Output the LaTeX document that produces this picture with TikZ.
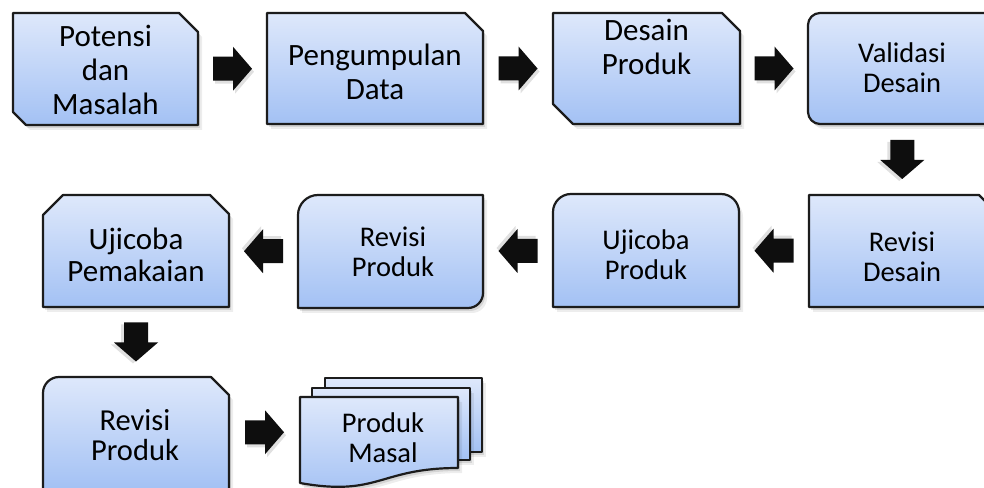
\documentclass[tikz,border=0pt]{standalone}
\usepackage{fontspec}
\setmainfont{Carlito}
\usetikzlibrary{calc}
\definecolor{boxtop}{RGB}{222,232,251}
\definecolor{boxbot}{RGB}{163,193,244}
\definecolor{edge}{RGB}{28,28,28}
\definecolor{arrowfill}{RGB}{14,14,14}
\tikzset{
  boxline/.style={draw=edge, line width=2.2pt, line join=round, top color=boxtop, bottom color=boxbot,
    preaction={fill=black, opacity=0.10, transform canvas={shift={(2pt,-3pt)}}},
    preaction={fill=black, opacity=0.07, transform canvas={shift={(4pt,-5pt)}}}},
  boxarea/.style={draw=none, fill=none, inner sep=0pt, outer sep=0pt, rectangle},
  txtA/.style={font=\fontsize{31}{34}\selectfont, align=center, text=black, inner sep=0pt, anchor=base},
  txtB/.style={font=\fontsize{28.5}{30}\selectfont, align=center, text=black, inner sep=0pt, anchor=base},
  blockarrow/.pic={
    \fill[black, opacity=0.12] (-17.5,-15) -- (2.5,-15) -- (2.5,-25) -- (21.5,-3) -- (2.5,19) -- (2.5,9) -- (-17.5,9) -- cycle;
    \fill[arrowfill] (-19.5,-12) -- (0.5,-12) -- (0.5,-22) -- (19.5,0) -- (0.5,22) -- (0.5,12) -- (-19.5,12) -- cycle;
  }
}
\begin{document}
\begin{tikzpicture}[x=1pt,y=1pt]
\useasboundingbox (0,0) rectangle (984,487);
\fill[white] (0,0) rectangle (984,487);
\clip (0,0) rectangle (984,487);

% box areas (named)
\node[boxarea, minimum width=185pt, minimum height=112pt] (b1) at (105.5,418) {};
\node[boxarea, minimum width=216pt, minimum height=111pt] (b2) at (375,418.5) {};
\node[boxarea, minimum width=187pt, minimum height=111pt] (b3) at (646.5,418.5) {};
\node[boxarea, minimum width=188pt, minimum height=111pt] (b4) at (902,418.5) {};
\node[boxarea, minimum width=187pt, minimum height=112pt] (b5) at (902.5,236) {};
\node[boxarea, minimum width=186pt, minimum height=113pt] (b6) at (646,236.5) {};
\node[boxarea, minimum width=185pt, minimum height=113pt] (b7) at (390.5,235.5) {};
\node[boxarea, minimum width=186pt, minimum height=112pt] (b8) at (136,236) {};
\node[boxarea, minimum width=186pt, minimum height=113pt] (b9) at (136,53.5) {};
\node[boxarea, minimum width=182pt, minimum height=106pt] (b10) at (391,56) {};

% outlines
\path[boxline] (13,375) -- (13,474) -- (179,474) -- (198,455) -- (198,362) -- (26,362) -- cycle;
\path[boxline] (267,474) -- (465,474) -- (483,456) -- (483,363) -- (267,363) -- cycle;
\path[boxline] (553,383) -- (553,474) -- (722,474) -- (740,456) -- (740,363) -- (573,363) -- cycle;
\path[boxline] (808,462) .. controls (808,468.6) and (813.4,474) .. (820,474) -- (984,474)
  .. controls (990.6,474) and (996,468.6) .. (996,462) -- (996,375)
  .. controls (996,368.4) and (990.6,363) .. (984,363) -- (820,363)
  .. controls (813.4,363) and (808,368.4) .. (808,375) -- cycle;
\path[boxline] (809,292) -- (979,292) -- (996,275) -- (996,180) -- (809,180) -- cycle;
\path[boxline] (553,180) -- (553,275) .. controls (553,284.9) and (561.1,293) .. (571,293) -- (721,293)
  .. controls (730.9,293) and (739,284.9) .. (739,275) -- (739,180) -- cycle;
\path[boxline] (298,179) -- (298,272) .. controls (298,283) and (307,292) .. (318,292) -- (483,292)
  -- (483,194) .. controls (483,185.7) and (476.3,179) .. (468,179) -- cycle;
\path[boxline] (43,180) -- (43,272) -- (63,292) -- (210,292) -- (229,273) -- (229,180) -- cycle;
\path[boxline] (43,-3) -- (43,94) .. controls (43,102.8) and (50.2,110) .. (59,110) -- (211,110)
  -- (229,92) -- (229,-3) -- cycle;
% multidocument
\path[boxline] (325,109) -- (482,109) -- (482,35) -- (325,35) -- cycle;
\path[boxline] (312,99) -- (470,99) -- (470,27) -- (312,27) -- cycle;
\path[boxline] (300,90) -- (458,90) -- (458,19) .. controls (379,19) and (379,-10) .. (300,4) -- cycle;

% texts (anchor = baseline of the last line)
\node[txtA] (t1) at (105.5,372) {Potensi\\dan\\Masalah};
\node[txtA] (t2) at (375,387) {Pengumpulan\\Data};
\node[txtA] (t3) at (646.5,412) {Desain\\Produk};
\node[txtB] (t4) at (902,394) {Validasi\\Desain};
\node[txtB] (t5) at (902,205) {Revisi\\Desain};
\node[txtB] (t6) at (646,207) {Ujicoba\\Produk};
\node[txtB] (t7) at (393,210) {Revisi\\Produk};
\node[txtA, font=\fontsize{31}{32}\selectfont] (t8) at (136,205) {Ujicoba\\Pemakaian};
\node[txtA, font=\fontsize{30.5}{30}\selectfont] (t9) at (135,27) {Revisi\\Produk};
\node[txtB] (t10) at (383,25) {Produk\\Masal};

% block arrows
\pic (a1) at ($(b1.east)!0.5!(b2.west)$) {blockarrow};
\pic (a2) at ($(b2.east)!0.5!(b3.west)$) {blockarrow};
\pic (a3) at ($(b3.east)!0.5!(b4.west)$) {blockarrow};
\pic[rotate=-90] (a4) at ($(b4.south)!0.5!(b5.north)$) {blockarrow};
\pic[rotate=180] (a5) at ($(b5.west)!0.5!(b6.east)$) {blockarrow};
\pic[rotate=180] (a6) at ($(b6.west)!0.5!(b7.east)$) {blockarrow};
\pic[rotate=180] (a7) at ($(b7.west)!0.5!(b8.east)$) {blockarrow};
\pic[rotate=-90] (a8) at ($(b8.south)!0.5!(b9.north)$) {blockarrow};
\pic (a9) at ($(b9.east)!0.5!(b10.west)$) {blockarrow};
\end{tikzpicture}
\end{document}
